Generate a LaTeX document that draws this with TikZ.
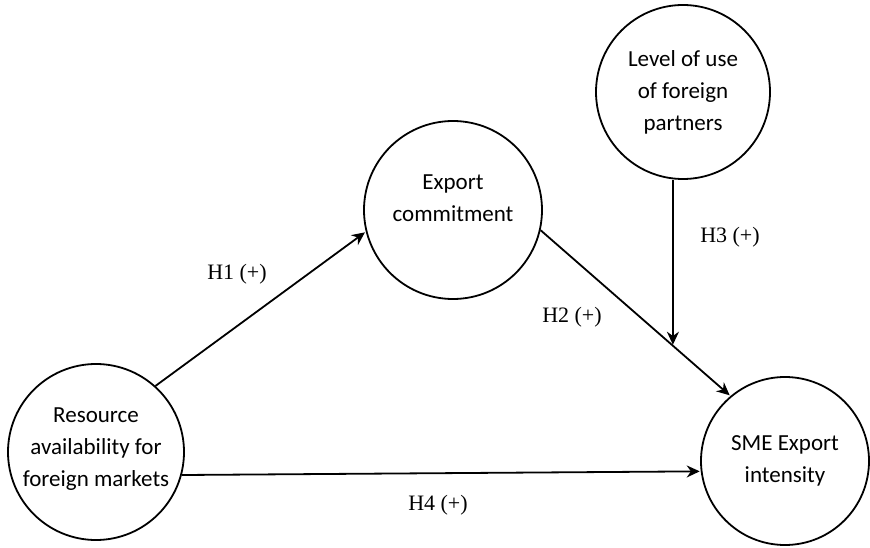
\documentclass[tikz,border=0pt]{standalone}
\usepackage{fontspec}
\setmainfont{Liberation Serif}
\setsansfont{Carlito}
\usetikzlibrary{arrows.meta}

\begin{document}
\begin{tikzpicture}[x=1pt,y=1pt,->,>={Stealth[length=13pt,width=12pt]},shorten >=1pt,line width=1.8pt,main node/.style={circle,draw,inner sep=0pt,align=center,font=\sffamily\fontsize{23}{32}\selectfont},hyp/.style={font=\fontsize{22}{26}\selectfont}]
                \useasboundingbox (0,0) rectangle (870,-548);
                \node[main node,minimum size=176pt] (1) at (96,-452) {Resource\\availability for\\foreign markets\\[-22pt]\mbox{}};
                \node[main node,minimum size=178pt] (2) at (453,-210) {Export\\commitment\\[-9pt]\mbox{}};
                \node[main node,minimum size=174pt] (3) at (683,-92) {Level of use\\of foreign\\partners};
                \node[main node,minimum size=168pt] (4) at (785,-461) {SME Export\\intensity};

                \path
                    (1.48) edge (2.194)
                    (1.345) edge (4.187)
                    ;
                \draw (2.347) -- coordinate[pos=0.697] (h) (4.130);
                \draw (3.south -| h) -- (h);

                \node[hyp] (h1) at (237,-274) {H1 (+)};
                \node[hyp] (h2) at (572,-317) {H2 (+)};
                \node[hyp] (h3) at (730,-237) {H3 (+)};
                \node[hyp] (h4) at (438,-505) {H4 (+)};
            \end{tikzpicture}
\end{document}
